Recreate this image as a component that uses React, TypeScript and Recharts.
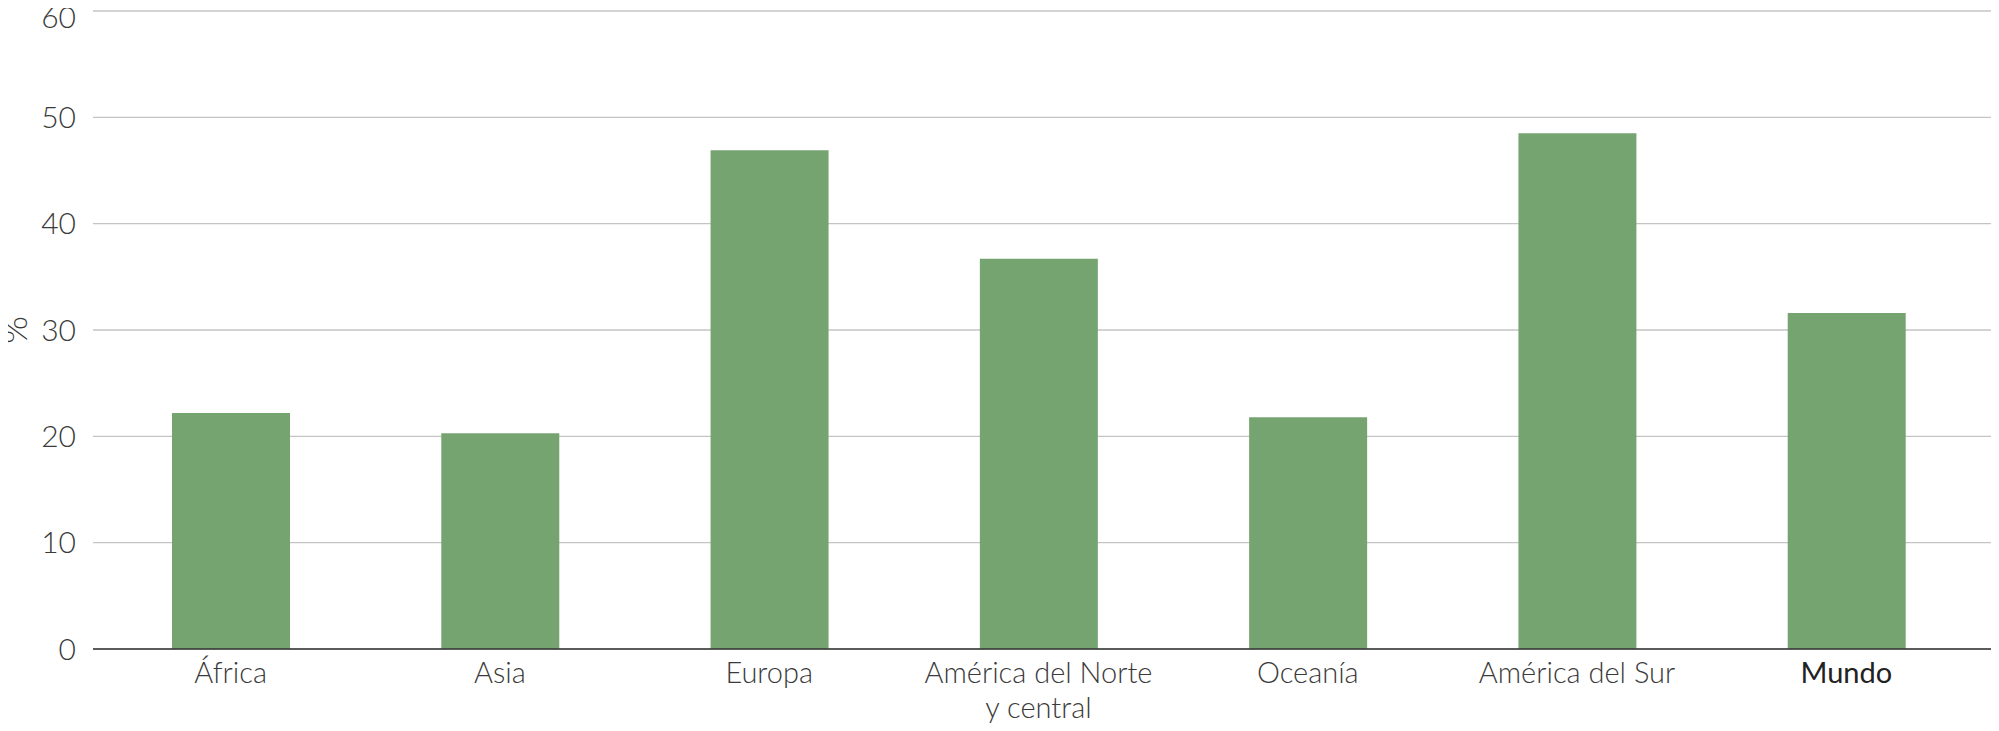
import { BarChart, Bar, XAxis, YAxis, CartesianGrid, Label } from "recharts";

// regions and share (%)
const categories = [
  "África",
  "Asia",
  "Europa",
  "América del Norte\ny central",
  "Oceanía",
  "América del Sur",
  "Mundo",
];
const shares = [22.2, 20.3, 46.9, 36.7, 21.8, 48.5, 31.6];
const yTicks = [0, 10, 20, 30, 40, 50, 60];

const data = categories.map((name, i) => ({ name, value: shares[i] }));

const FONT = "Lato, 'Noto Sans', sans-serif";

const CategoryTick = (props: any) => {
  const { x, y, payload } = props;
  const lines: string[] = String(payload.value).split("\n");
  const isWorld = payload.value === "Mundo";
  return (
    <text
      x={x}
      y={y}
      textAnchor="middle"
      fontFamily={FONT}
      fontSize={29}
      fontWeight={isWorld ? 400 : 300}
      fill={isWorld ? "#222" : "#3a3a3a"}
    >
      {lines.map((line, i) => (
        <tspan key={i} x={x} dy={i === 0 ? 26 : 35}>
          {line}
        </tspan>
      ))}
    </text>
  );
};

const PercentLabel = (props: any) => {
  const { viewBox } = props;
  const cy = viewBox.y + viewBox.height / 2;
  return (
    <text
      x={27}
      y={cy}
      transform={`rotate(-90, 27, ${cy})`}
      textAnchor="middle"
      fontFamily={FONT}
      fontSize={36}
      fontWeight={300}
      fill="#3a3a3a"
    >
      %
    </text>
  );
};

export default function App() {
  return (
    <div style={{ margin: -8, width: 1999, height: 731, background: "#fff" }}>
      <BarChart
        width={1999}
        height={731}
        data={data}
        margin={{ top: 11, right: 0, bottom: 0, left: 0 }}
        barCategoryGap={0}
      >
        <CartesianGrid
          vertical={false}
          stroke="#c4c4c4"
          strokeWidth={1.4}
        />
        <XAxis
          dataKey="name"
          height={82}
          interval={0}
          padding={{ left: 3, right: 18 }}
          axisLine={{ stroke: "#333", strokeWidth: 1.6 }}
          tickLine={false}
          tick={<CategoryTick />}
        />
        <YAxis
          width={93}
          domain={[0, 60]}
          ticks={yTicks}
          axisLine={false}
          tickLine={false}
          tickMargin={11}
          tick={{
            fontFamily: FONT,
            fontSize: 30,
            fontWeight: 300,
            fill: "#3a3a3a",
          }}
        >
          <Label content={<PercentLabel />} />
        </YAxis>
        <Bar
          dataKey="value"
          fill="#76a471"
          barSize={118}
          isAnimationActive={false}
        />
      </BarChart>
    </div>
  );
}
